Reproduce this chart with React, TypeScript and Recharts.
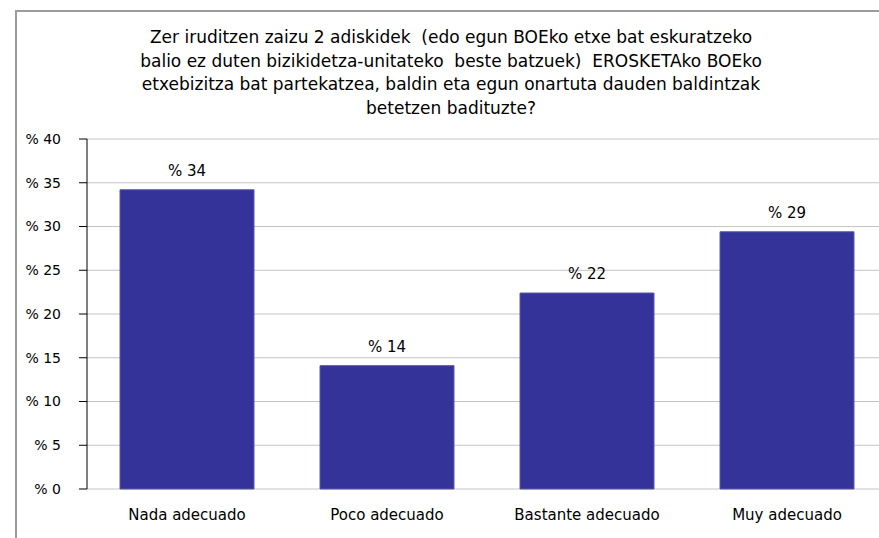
import { Bar, BarChart, CartesianGrid, LabelList, XAxis, YAxis } from "recharts";

const categories = ["Nada adecuado", "Poco adecuado", "Bastante adecuado", "Muy adecuado"];
const values = [34.2, 14.1, 22.4, 29.4];
const yTicks = [0, 5, 10, 15, 20, 25, 30, 35, 40];
const boundaryTicks = [0, 1, 2, 3, 4];
const titleLines = [
    "Zer iruditzen zaizu 2 adiskidek  (edo egun BOEko etxe bat eskuratzeko",
    "balio ez duten bizikidetza-unitateko  beste batzuek)  EROSKETAko BOEko",
    "etxebizitza bat partekatzea, baldin eta egun onartuta dauden baldintzak",
    "betetzen badituzte?",
];

const FONT = "'DejaVu Sans', Verdana, sans-serif";

/** The source image is cropped on the right: the plot runs past the 879px frame,
 * so the chart is drawn wider and clipped by the wrapper. */
export default function App() {
    const data = categories.map((name, i) => ({ name, value: values[i], pos: i + 0.5 }));

    return (
        <div
            style={{
                position: "absolute",
                left: 0,
                top: 0,
                width: 879,
                height: 538,
                overflow: "hidden",
                background: "#fff",
                fontFamily: FONT,
            }}
        >
            <div
                style={{
                    position: "absolute",
                    left: 15,
                    top: 10,
                    width: 900,
                    height: 600,
                    border: "2px solid #9c9c9c",
                    boxSizing: "border-box",
                }}
            />
            <div
                style={{
                    position: "absolute",
                    left: 15,
                    top: 26,
                    width: 872,
                    textAlign: "center",
                    fontSize: 17,
                    lineHeight: "23.5px",
                    color: "#000",
                    whiteSpace: "pre",
                }}
            >
                {titleLines.map((l) => (
                    <div key={l}>{l}</div>
                ))}
            </div>
            <div style={{ position: "absolute", left: 0, top: 0 }}>
                <BarChart
                    width={900}
                    height={538}
                    data={data}
                    barCategoryGap={33}
                    margin={{ top: 139, right: 13, bottom: 0, left: 0 }}
                >
                    <CartesianGrid vertical={false} stroke="#c4c4c4" strokeWidth={1} />
                    <XAxis
                        dataKey="name"
                        height={49}
                        axisLine={false}
                        tickLine={false}
                        tickMargin={14}
                        interval={0}
                        tick={{ fill: "#000", fontSize: 15, fontFamily: FONT }}
                    />
                    <XAxis
                        xAxisId="edge"
                        dataKey="pos"
                        type="number"
                        domain={[0, 4]}
                        ticks={boundaryTicks}
                        height={0}
                        tick={false}
                        tickSize={6}
                        tickLine={{ stroke: "#000" }}
                        axisLine={{ stroke: "#000" }}
                    />
                    <YAxis
                        width={87}
                        domain={[0, 40]}
                        ticks={yTicks}
                        interval={0}
                        tickSize={8}
                        tickMargin={18}
                        axisLine={{ stroke: "#000" }}
                        tickLine={{ stroke: "#000" }}
                        tickFormatter={(v) => `% ${v}`}
                        tick={{ fill: "#000", fontSize: 14, fontFamily: FONT }}
                    />
                    <Bar dataKey="value" fill="#333399" stroke="#5a5aa8" strokeWidth={1} isAnimationActive={false}>
                        <LabelList
                            dataKey="value"
                            position="top"
                            offset={14}
                            formatter={(v: number) => `% ${Math.round(v)}`}
                            style={{ fill: "#000", fontSize: 15, fontFamily: FONT }}
                        />
                    </Bar>
                </BarChart>
            </div>
        </div>
    );
}
